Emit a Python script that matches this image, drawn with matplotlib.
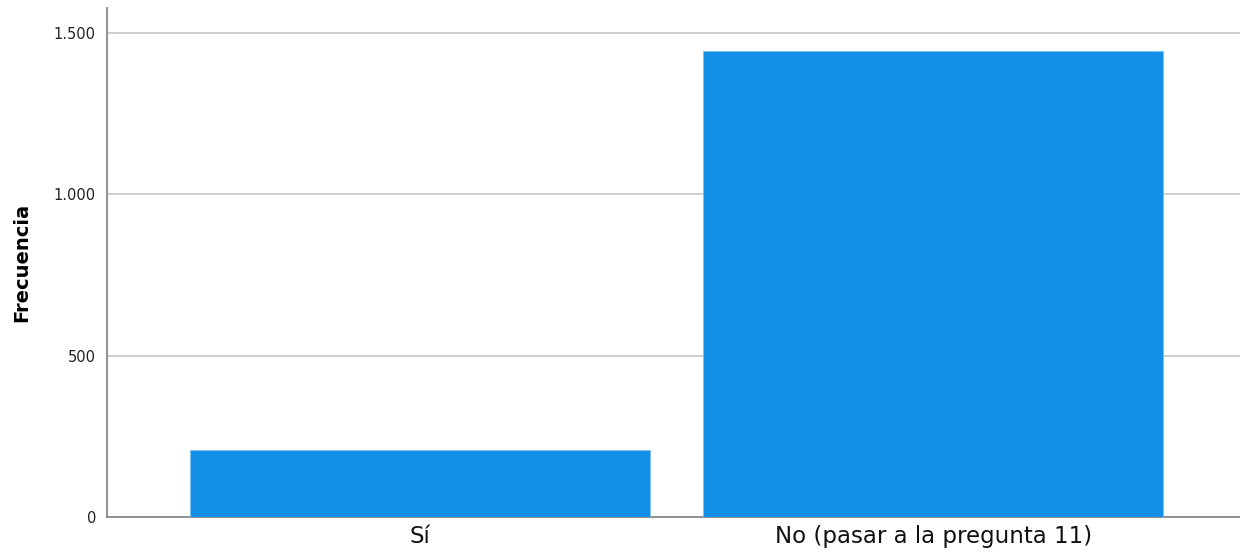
#!/usr/bin/env python3

import matplotlib
matplotlib.use('Agg')
import matplotlib.pyplot as plt
from matplotlib.ticker import FuncFormatter

categories = ['Sí', 'No (pasar a la pregunta 11)']
counts = [208, 1444]
y_ticks = [0, 500, 1000, 1500]

plt.rcParams['font.family'] = ['DejaVu Sans']

fig = plt.figure(figsize=(12.4, 5.54), dpi=100)
ax = fig.add_axes([107 / 1240, 37 / 554, 1 - 107 / 1240, (517 - 8) / 554])

x = list(range(len(categories)))
ax.bar(x, counts, width=0.897, color='#1390E6', edgecolor='#7fc0f0',
       linewidth=0.6, zorder=3)

ax.set_xlim(-0.61, 1.598)
ax.set_ylim(0, 1578)
ax.set_yticks(y_ticks)
ax.yaxis.set_major_formatter(FuncFormatter(lambda v, p: format(int(v), ',').replace(',', '.')))
ax.set_xticks(x)
ax.set_xticklabels(categories, fontsize=16.5, color='#111111')
ax.tick_params(axis='y', labelsize=10.5, length=0, pad=8, colors='#222222')
ax.tick_params(axis='x', length=0, pad=6)

ax.grid(axis='y', color='#cfcfcf', linewidth=1.4, zorder=0)
for s in ['top', 'right']:
    ax.spines[s].set_visible(False)
for s in ['left', 'bottom']:
    ax.spines[s].set_color('#888888')
    ax.spines[s].set_linewidth(1.3)

ax.set_ylabel('Frecuencia', fontsize=14, fontweight='bold', labelpad=16)

fig.savefig('out.png', dpi=100)
